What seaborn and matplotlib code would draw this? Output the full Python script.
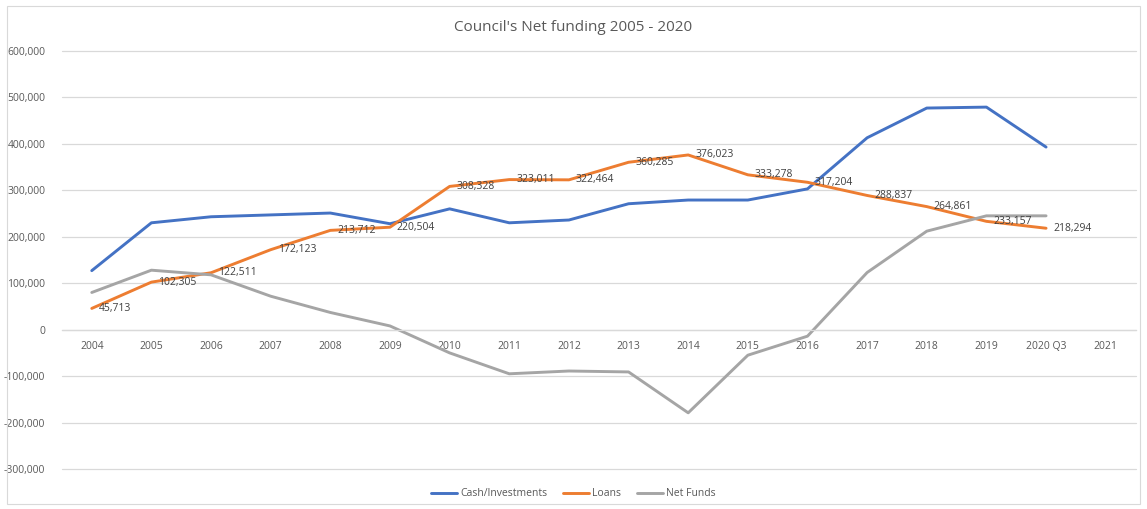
import numpy as np
import pandas as pd
import matplotlib
matplotlib.use("Agg")
import matplotlib.pyplot as plt
import seaborn as sns
from matplotlib.patches import Rectangle
from matplotlib.ticker import FuncFormatter, MultipleLocator

categories = ["2004", "2005", "2006", "2007", "2008", "2009", "2010", "2011", "2012",
              "2013", "2014", "2015", "2016", "2017", "2018", "2019", "2020 Q3", "2021"]
cash = [127000, 230000, 243000, 247000, 251000, 228000, 260000, 230000, 236000,
        271000, 279000, 279000, 303000, 413000, 477000, 479000, 393000, np.nan]
loans = [45713, 102305, 122511, 172123, 213712, 220504, 308328, 323011, 322464,
         360285, 376023, 333278, 317204, 288837, 264861, 233157, 218294, np.nan]
net_funds = [80000, 128000, 118000, 72000, 37000, 8000, -50000, -95000, -89000,
             -91000, -179000, -55000, -14000, 123000, 212000, 245000, 245000, np.nan]
series_names = ["Cash/Investments", "Loans", "Net Funds"]
title = "Council's Net funding 2005 - 2020"

sns.set_theme(style="white")
plt.rcParams['font.family'] = ['Open Sans', 'DejaVu Sans']

rows = []
for name, vals in zip(series_names, [cash, loans, net_funds]):
    for i, v in enumerate(vals):
        rows.append({"idx": i, "value": v, "series": name})
df = pd.DataFrame(rows)

fig = plt.figure(figsize=(11.47, 5.09), dpi=100)
ax = fig.add_axes([0.054, 0.0776, 0.936, 0.8224])

palette = {"Cash/Investments": "#4472C4", "Loans": "#ED7D31", "Net Funds": "#A5A5A5"}
sns.lineplot(data=df, x="idx", y="value", hue="series", palette=palette,
             linewidth=2.1, ax=ax, legend=True, sort=False)

ax.set_xlim(-0.5, len(categories) - 0.5)
ax.set_ylim(-301000, 600000)
ax.set_yticks(np.arange(-300000, 600001, 100000))
ax.yaxis.set_major_formatter(FuncFormatter(lambda v, p: f"{int(v):,}"))
ax.set_xticks(range(len(categories)))
ax.set_xticklabels(categories)
ax.grid(axis="y", color="#D9D9D9", linewidth=0.9)
ax.set_axisbelow(True)
for gl in ax.get_ygridlines():
    gl.set_clip_on(False)
for s in ["top", "right", "left"]:
    ax.spines[s].set_visible(False)
ax.spines["bottom"].set_position(("data", 0))
ax.spines["bottom"].set_color("#D9D9D9")
ax.spines["bottom"].set_linewidth(0.9)
ax.tick_params(axis="both", length=0, labelsize=7.5, labelcolor="#595959")
ax.tick_params(axis="x", pad=8)
ax.tick_params(axis="y", pad=12)
ax.set_xlabel("")
ax.set_ylabel("")

for i, v in enumerate(loans):
    if not np.isnan(v):
        ax.annotate(f"{int(v):,}", (i, v), xytext=(5, 0), textcoords="offset points",
                    ha="left", va="center", fontsize=7.5, color="#404040")

fig.text(0.5, 0.945, title, ha="center", va="center", fontsize=11, color="#595959")

handles, labels = ax.get_legend_handles_labels()
ax.legend_.remove()
fig.legend(handles, labels, loc="center", bbox_to_anchor=(0.5, 0.03), ncol=3,
           frameon=False, fontsize=7.5, handlelength=2.5, handletextpad=0.3,
           columnspacing=1.5, labelcolor="#595959")

fig.patches.append(Rectangle((0.006, 0.01), 0.988, 0.978, transform=fig.transFigure,
                             fill=False, edgecolor="#D9D9D9", linewidth=0.8))

fig.savefig("out.png", dpi=100)
